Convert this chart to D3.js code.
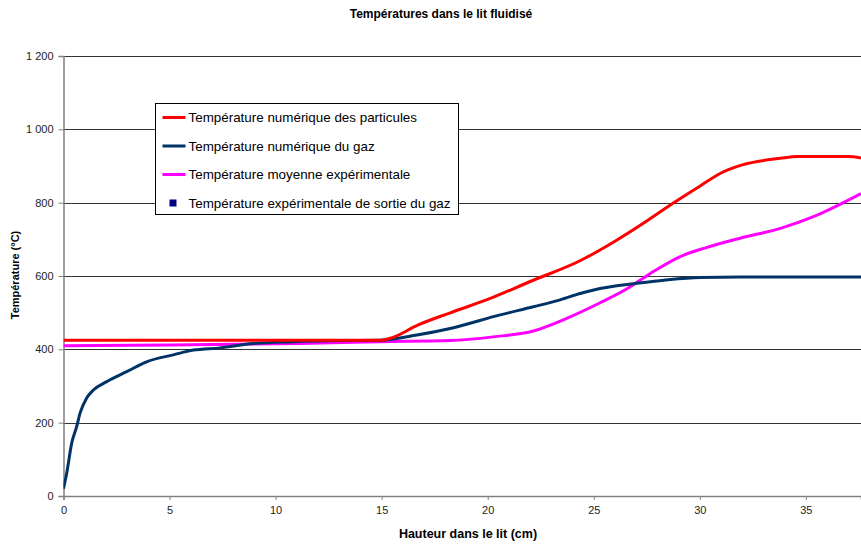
<!DOCTYPE html>
<html>
<head>
<meta charset="utf-8">
<title>Températures dans le lit fluidisé</title>
<script src="https://d3js.org/d3.v7.min.js"></script>
<style>
  body { margin: 0; background: #fff; }
  svg text { font-family: "Liberation Sans", Arial, sans-serif; }
</style>
</head>
<body>
<div id="chart"></div>
<script>
// hauteur (cm) / température (°C)
const partX = [0, 15, 15.5, 16.7, 18.2, 20.0, 22.0, 24.4, 26.0, 27.5, 28.75, 30.0, 31.0, 32.0, 33.8, 34.6, 37.0, 37.6];
const partT = [425, 425, 432, 466, 499, 536, 585, 643, 695, 750, 799, 845, 881, 903, 921, 926, 926, 922];

const gazX = [0, 0.15, 0.39, 0.62, 0.78, 1.09, 1.41, 2.04, 2.98, 3.92, 5.18, 6.12, 7.38, 8.94, 10.82, 13.04, 14.93, 16.66, 18.23, 20.59, 22.15, 23.42, 24.4, 25.0, 27.04, 28.5, 30.02, 31.9, 37.6];
const gazT = [20, 62, 145, 189, 226, 267, 289, 312, 339, 366, 385, 398, 404, 416, 421, 424, 425, 439, 457, 494, 516, 535, 553, 562, 580, 590, 596, 597, 597];

const moyX = [0, 5, 11.15, 14.93, 18.23, 20.26, 22.15, 23.75, 25.3, 26.57, 27.67, 29.08, 30.34, 31.9, 33.8, 35.36, 37.6];
const moyT = [410, 412, 416, 421, 424, 434, 450, 485, 527, 565, 607, 653, 678, 703, 730, 762, 825];

const legendLabels = [
  "Température numérique des particules",
  "Température numérique du gaz",
  "Température moyenne expérimentale",
  "Température expérimentale de sortie du gaz"
];
const seriesColors = ["#ff0000", "#003366", "#ff00ff", "#000080"];
const yTicks = [0, 200, 400, 600, 800, 1000, 1200];
const xTicks = [0, 5, 10, 15, 20, 25, 30, 35];

const W = 861, H = 545;
const svg = d3.select("#chart").append("svg").attr("width", W).attr("height", H);

const x = d3.scaleLinear().domain([0, 37.6]).range([63.5, 861]);
const y = d3.scaleLinear().domain([0, 1200]).range([496, 56]);

// titre
svg.append("text").attr("x", 441).attr("y", 18).attr("text-anchor", "middle")
  .style("font-size", "12px").style("font-weight", "bold").text("Températures dans le lit fluidisé");

// grille
svg.append("g").selectAll("line").data(yTicks.filter(d => d > 0)).join("line")
  .attr("x1", x(0)).attr("x2", W).attr("y1", d => Math.round(y(d)) + 0.5).attr("y2", d => Math.round(y(d)) + 0.5)
  .attr("stroke", "#333").attr("stroke-width", 1);

// axe y
const gy = svg.append("g").attr("transform", `translate(${x(0)},0)`)
  .call(d3.axisLeft(y).tickValues(yTicks).tickSize(5).tickPadding(5).tickFormat(d => d3.format(",")(d).replace(",", " ")));
gy.select(".domain").attr("stroke", "#808080").attr("stroke-width", 1.5);
gy.selectAll(".tick line").attr("stroke", "#808080");
gy.selectAll("text").style("font-size", "11px").attr("fill", "#222");

// axe x
const gx = svg.append("g").attr("transform", `translate(0,${y(0)})`)
  .call(d3.axisBottom(x).tickValues(xTicks).tickSize(4).tickPadding(6));
gx.select(".domain").attr("stroke", "#808080").attr("stroke-width", 1.5);
gx.selectAll(".tick line").attr("stroke", "#808080");
gx.selectAll("text").style("font-size", "11px").attr("fill", "#222");

// titres d'axes
svg.append("text").attr("x", 468).attr("y", 538).attr("text-anchor", "middle")
  .style("font-size", "12.5px").style("font-weight", "bold").text("Hauteur dans le lit (cm)");
svg.append("text").attr("transform", "translate(19,275) rotate(-90)").attr("text-anchor", "middle")
  .style("font-size", "11px").style("font-weight", "bold").text("Température (°C)");

// courbes
svg.append("clipPath").attr("id", "clip").append("rect")
  .attr("x", x(0)).attr("y", 40).attr("width", W - x(0)).attr("height", 460);

const line = d3.line().x(d => x(d[0])).y(d => y(d[1])).curve(d3.curveMonotoneX);
const series = [
  d3.zip(moyX, moyT),
  d3.zip(gazX, gazT),
  d3.zip(partX, partT)
];
const order = [2, 1, 0];
svg.append("g").attr("clip-path", "url(#clip)").selectAll("path").data(series).join("path")
  .attr("d", line).attr("fill", "none")
  .attr("stroke", (d, i) => seriesColors[order[i]]).attr("stroke-width", 3);

// légende
const lg = svg.append("g").attr("transform", "translate(155.5,103.5)");
lg.append("rect").attr("width", 303).attr("height", 111).attr("fill", "#fff").attr("stroke", "#000");
legendLabels.forEach((lab, i) => {
  const ly = 14 + i * 28.5;
  if (i < 3) {
    lg.append("line").attr("x1", 7).attr("x2", 30).attr("y1", ly).attr("y2", ly)
      .attr("stroke", seriesColors[i]).attr("stroke-width", 3);
  } else {
    lg.append("rect").attr("x", 14).attr("y", ly - 3.5).attr("width", 7).attr("height", 7).attr("fill", seriesColors[i]);
  }
  lg.append("text").attr("x", 33).attr("y", ly + 4.5).style("font-size", "13.4px").attr("fill", "#000").text(lab);
});
</script>
</body>
</html>
